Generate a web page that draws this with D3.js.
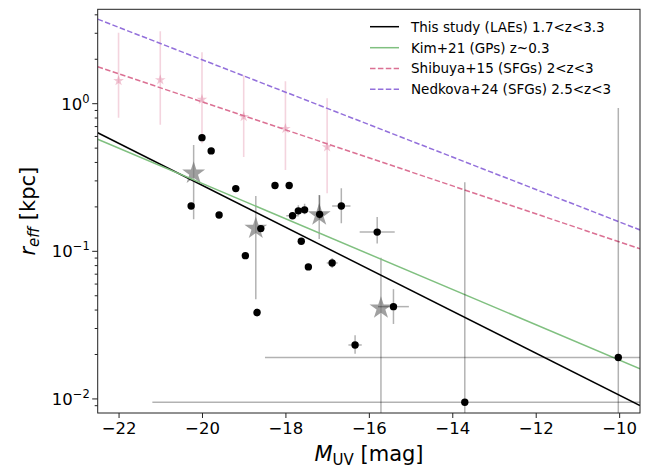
<!DOCTYPE html>
<html><head><meta charset="utf-8">
<script src="https://cdn.jsdelivr.net/npm/d3@7"></script>
<style>body{margin:0;background:#fff}svg{display:block;font-family:"DejaVu Sans",sans-serif}</style>
</head><body><svg id="c" width="652" height="468"></svg>
<script>
// ---- data ----
const xTicks = [-22, -20, -18, -16, -14, -12, -10];
const yTicks = [0.01, 0.1, 1];
const yTickExp = ["\u22122", "\u22121", "0"];
const lineM = [-22.5, -9.5];
const lineThisStudy = [0.636, 0.00902];
const lineKim21 = [0.574, 0.016];
const lineShibuya15 = [1.78, 0.104];
const lineNedkova24 = [3.74, 0.1396];
const legendLabels = ["This study (LAEs) 1.7<z<3.3", "Kim+21 (GPs) z~0.3", "Shibuya+15 (SFGs) 2<z<3", "Nedkova+24 (SFGs) 2.5<z<3"];

// Shibuya+15 binned points
const sbM = [-22, -21, -20, -19, -18, -17];
const sbR = [1.43, 1.45, 1.07, 0.817, 0.677, 0.509];
const sbLo = [0.804, 0.72, 0.54, 0.436, 0.356, 0.247];
const sbHi = [3.03, 3.1, 2.23, 1.56, 1.42, 1.09];

// stacked (gray stars)
const gsM = [-20.2, -18.71, -17.19, -15.71];
const gsR = [0.338, 0.143, 0.176, 0.0412];
const gsLo = [0.165, 0.0474, 0.121, 0.0001];
const gsHi = [0.525, 0.237, 0.241, 0.0906];

// individual LAEs
const laeM = [-20.0, -19.78, -20.26, -19.59, -19.19, -18.25, -17.91, -17.83, -17.69, -17.54, -17.18, -16.66, -15.80, -18.59, -17.62, -18.96, -17.45, -16.88, -18.68, -15.41, -16.33, -13.70, -10.02];
const laeR = [0.589, 0.479, 0.203, 0.176, 0.266, 0.279, 0.279, 0.174, 0.188, 0.191, 0.178, 0.203, 0.135, 0.1425, 0.117, 0.0935, 0.0784, 0.0834, 0.0385, 0.0422, 0.0232, 0.0095, 0.0191];
const laeMLo = [null, null, null, null, null, null, null, -17.98, null, null, null, -16.88, -16.22, null, null, null, null, -17.01, null, -15.78, -16.49, -21.19, -18.49];
const laeMHi = [null, null, null, null, null, null, null, -17.68, null, null, null, -16.44, -15.38, null, null, null, null, -16.75, null, -15.04, -16.17, -8.0, -8.0];
const laeRLo = [null, null, null, null, null, null, null, null, 0.176, 0.178, 0.165, 0.155, 0.113, null, null, null, null, 0.077, 0.036, 0.0322, 0.0202, 0.0001, 0.0001];
const laeRHi = [null, null, null, null, null, null, null, null, 0.205, 0.21, 0.24, 0.267, 0.171, null, null, null, null, 0.09, 0.041, 0.0554, 0.027, 0.294, 0.935];

// ---- layout ----
const svg = d3.select("#c");
const L = 97.7, R = 640, T = 9.3, B = 413;
const x = d3.scaleLinear().domain([-22.5, -9.5]).range([L, R]);
const y = d3.scaleLog().domain([0.00803, 4.36]).range([B, T]);

svg.append("defs").append("clipPath").attr("id", "clip")
  .append("rect").attr("x", L).attr("y", T).attr("width", R - L).attr("height", B - T);
const g = svg.append("g").attr("clip-path", "url(#clip)");

const lines = [
  {v: lineThisStudy, c: "#000", d: null},
  {v: lineKim21, c: "rgb(128,192,128)", d: null},
  {v: lineShibuya15, c: "palevioletred", d: "5.5,2.4"},
  {v: lineNedkova24, c: "mediumpurple", d: "5.5,2.4"}
];

// Shibuya error bars + stars
sbM.forEach((m, i) => {
  g.append("line").attr("x1", x(m)).attr("x2", x(m)).attr("y1", y(sbLo[i])).attr("y2", y(sbHi[i]))
    .attr("stroke", "palevioletred").attr("stroke-opacity", 0.3).attr("stroke-width", 1.6);
});
const starSmall = d3.symbol().type(d3.symbolStar).size(5.6 * 5.6 / 0.8908);
sbM.forEach((m, i) => {
  g.append("path").attr("d", starSmall()).attr("transform", `translate(${x(m)},${y(sbR[i])})`)
    .attr("fill", "palevioletred").attr("fill-opacity", 0.4);
});

// gray stars with error bars
gsM.forEach((m, i) => {
  g.append("line").attr("x1", x(m)).attr("x2", x(m)).attr("y1", y(gsLo[i])).attr("y2", y(gsHi[i]))
    .attr("stroke", "#000").attr("stroke-opacity", 0.3).attr("stroke-width", 1.5);
});
const starBig = d3.symbol().type(d3.symbolStar).size(12 * 12 / 0.8908);
gsM.forEach((m, i) => {
  g.append("path").attr("d", starBig()).attr("transform", `translate(${x(m)},${y(gsR[i])})`)
    .attr("fill", "#777").attr("fill-opacity", 0.7);
});

// lines
const lg = d3.line().x(d => x(d[0])).y(d => y(d[1]));
lines.forEach(l => {
  g.append("path").attr("d", lg(lineM.map((m, i) => [m, l.v[i]])))
    .attr("fill", "none").attr("stroke", l.c).attr("stroke-width", 1.5)
    .attr("stroke-dasharray", l.d);
});

// LAE error bars
laeM.forEach((m, i) => {
  if (laeMLo[i] !== null) {
    g.append("line").attr("x1", x(laeMLo[i])).attr("x2", x(laeMHi[i])).attr("y1", y(laeR[i])).attr("y2", y(laeR[i]))
      .attr("stroke", "#000").attr("stroke-opacity", 0.3).attr("stroke-width", 1.5);
  }
  if (laeRLo[i] !== null) {
    g.append("line").attr("x1", x(m)).attr("x2", x(m)).attr("y1", y(laeRLo[i])).attr("y2", y(laeRHi[i]))
      .attr("stroke", "#000").attr("stroke-opacity", 0.3).attr("stroke-width", 1.5);
  }
});
// LAE dots
laeM.forEach((m, i) => {
  g.append("circle").attr("cx", x(m)).attr("cy", y(laeR[i])).attr("r", 3.7).attr("fill", "#000");
});

// ---- axes ----
const axCol = "#222";
svg.append("rect").attr("x", L).attr("y", T).attr("width", R - L).attr("height", B - T)
  .attr("fill", "none").attr("stroke", axCol).attr("stroke-width", 1);

const xa = svg.append("g").attr("transform", `translate(0,${B})`)
  .call(d3.axisBottom(x).tickValues(xTicks).tickSize(5).tickPadding(4).tickFormat(d => d3.format("d")(d).replace("-", "\u2212")));
xa.select(".domain").remove();
xa.selectAll("line").attr("stroke", axCol);
xa.selectAll("text").attr("font-size", 16.5).attr("font-family", "DejaVu Sans").attr("fill", "#000");

const ya = svg.append("g").attr("transform", `translate(${L},0)`);
const minors = [];
[0.001, 0.01, 0.1, 1].forEach(dec => { for (let k = 2; k <= 9; k++) minors.push(dec * k); });
minors.filter(v => v >= 0.00803 && v <= 4.36).forEach(v => {
  ya.append("line").attr("x1", 0).attr("x2", -3).attr("y1", y(v)).attr("y2", y(v)).attr("stroke", axCol);
});
yTicks.forEach((v, i) => {
  ya.append("line").attr("x1", 0).attr("x2", -5.5).attr("y1", y(v)).attr("y2", y(v)).attr("stroke", axCol);
  const t = ya.append("text").attr("x", -8).attr("y", y(v) + 6).attr("text-anchor", "end")
    .attr("font-size", 16.5).attr("fill", "#000");
  t.append("tspan").text("10");
  t.append("tspan").attr("dy", -7).attr("font-size", 11.5).text(yTickExp[i]);
});

// axis labels
const xl = svg.append("text").attr("x", 369).attr("y", 461).attr("text-anchor", "middle").attr("font-size", 21).attr("fill", "#000");
xl.append("tspan").attr("font-style", "italic").text("M");
xl.append("tspan").attr("font-size", 15).attr("dy", 4).text("UV");
xl.append("tspan").attr("dy", -4).text(" [mag]");

const yl = svg.append("text").attr("transform", `translate(35,${(T + B) / 2}) rotate(-90)`)
  .attr("text-anchor", "middle").attr("font-size", 21).attr("fill", "#000");
yl.append("tspan").attr("font-style", "italic").text("r");
yl.append("tspan").attr("font-style", "italic").attr("font-size", 15).attr("dy", 4).text("eff");
yl.append("tspan").attr("dy", -4).text(" [kpc]");

// legend
const lgY = [26.7, 47.7, 68.5, 89.3];
lines.forEach((l, i) => {
  svg.append("line").attr("x1", 370).attr("x2", 399).attr("y1", lgY[i]).attr("y2", lgY[i])
    .attr("stroke", l.c).attr("stroke-width", 1.5).attr("stroke-dasharray", l.d);
  svg.append("text").attr("x", 411).attr("y", lgY[i] + 4.8).attr("font-size", 13.5).attr("fill", "#000").text(legendLabels[i]);
});
</script></body></html>
